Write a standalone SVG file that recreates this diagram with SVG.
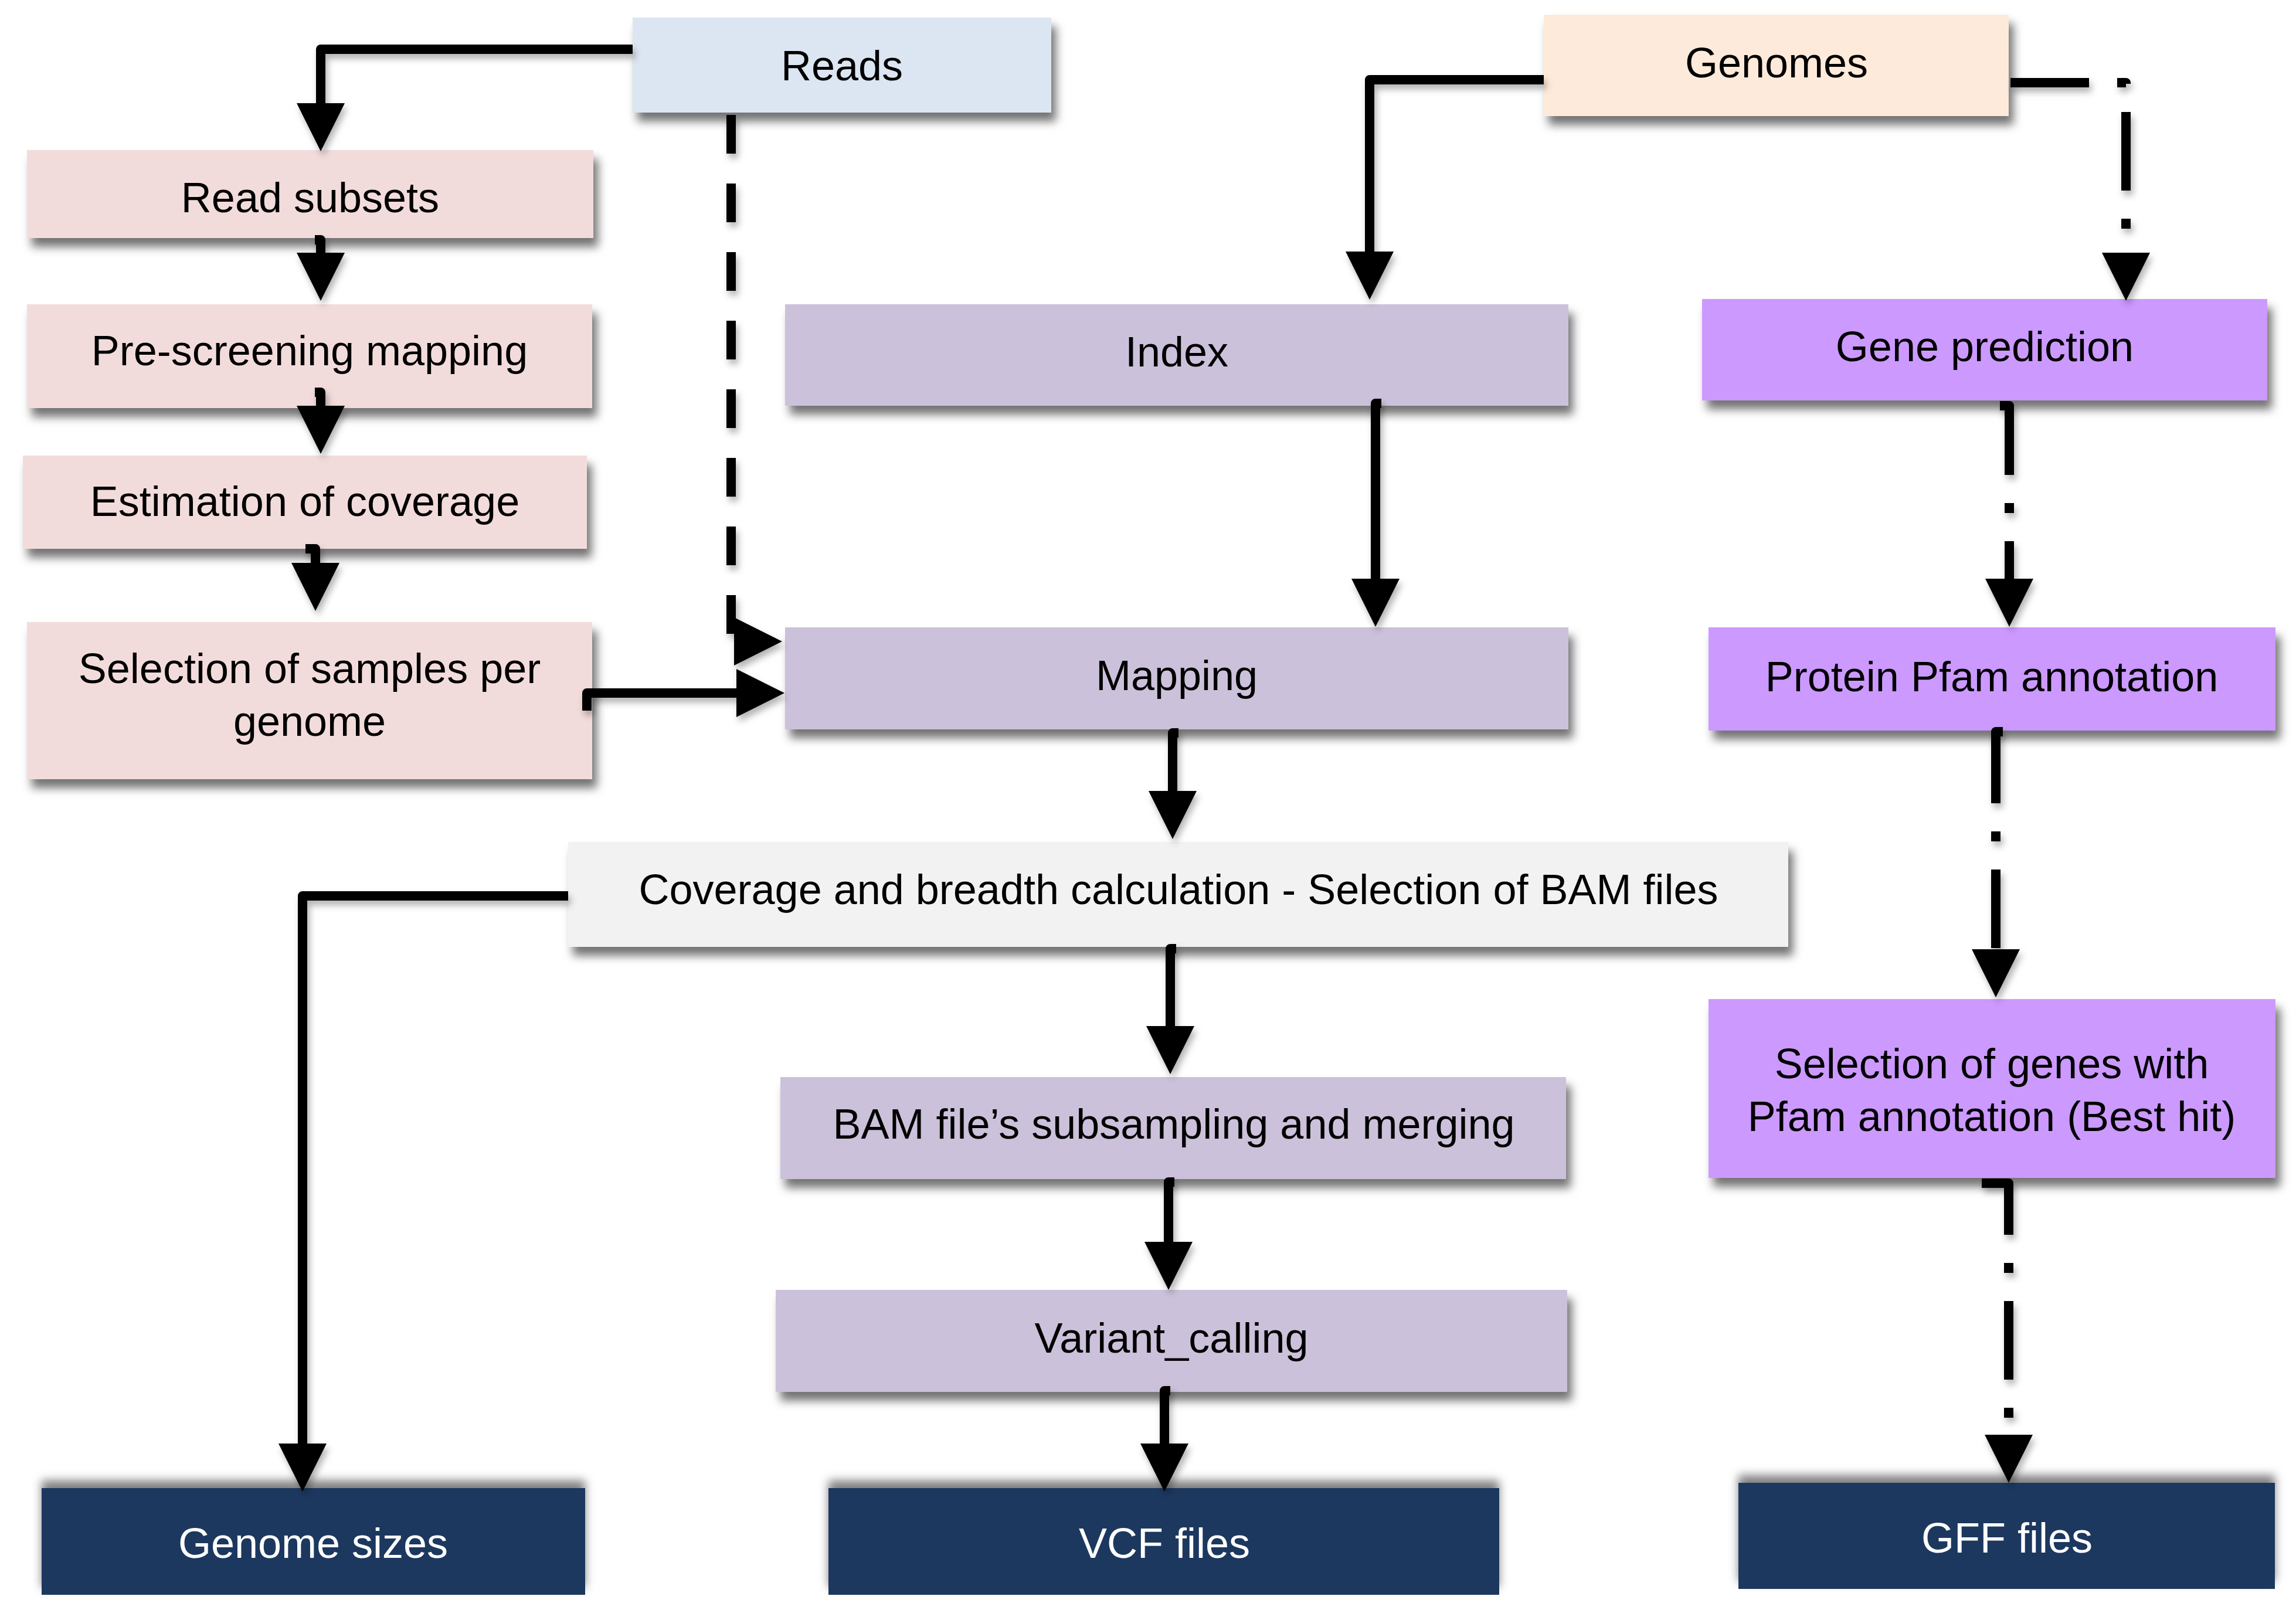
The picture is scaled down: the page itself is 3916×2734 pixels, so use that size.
<svg xmlns="http://www.w3.org/2000/svg" width="3916" height="2734" viewBox="0 0 3916 2734">
<defs>
<filter id="sh" x="-10%" y="-30%" width="120%" height="170%">
<feDropShadow dx="8" dy="15" stdDeviation="8" flood-color="#000" flood-opacity="0.55"/>
</filter>
<filter id="shUp" x="-10%" y="-40%" width="120%" height="170%">
<feDropShadow dx="0" dy="-13" stdDeviation="8" flood-color="#000" flood-opacity="0.5"/>
</filter>
<filter id="lsh" x="-20%" y="-20%" width="140%" height="140%">
<feDropShadow dx="4" dy="8" stdDeviation="6" flood-color="#000" flood-opacity="0.3"/>
</filter>
<marker id="ah" markerUnits="userSpaceOnUse" markerWidth="90" markerHeight="90" refX="0" refY="41" orient="auto" viewBox="0 0 90 90">
<path d="M0,0 L82,41 L0,82 z" fill="#000"/>
</marker>
</defs>
<style>
.box{filter:url(#sh)}
.dark{filter:url(#shUp)}
.t{font-family:"Liberation Sans",Arial,Helvetica,sans-serif;font-size:72px;text-anchor:middle;fill:#000}
.w{fill:#fff}
.c{fill:none;stroke:#000;stroke-width:16;stroke-linejoin:round;marker-end:url(#ah)}
.dash{stroke-dasharray:66 51}
.dd{stroke-dasharray:134 48 17 48}
</style>
<rect width="3916" height="2734" fill="#fff"/>

<g id="reads"><rect class="box" x="1079" y="30" width="714" height="162" fill="#dce6f2"/><text class="t" x="1436" y="137">Reads</text></g>
<g id="genomes"><rect class="box" x="2633" y="25" width="793" height="173" fill="#fdeada"/><text class="t" x="3030" y="132">Genomes</text></g>
<g id="read-subsets"><rect class="box" x="46" y="256" width="966" height="150" fill="#f2dcdb"/><text class="t" x="529" y="362">Read subsets</text></g>
<g id="pre-screening"><rect class="box" x="46" y="519" width="964" height="177" fill="#f2dcdb"/><text class="t" x="528" y="623">Pre-screening mapping</text></g>
<g id="estimation"><rect class="box" x="39" y="777" width="962" height="159" fill="#f2dcdb"/><text class="t" x="520" y="880">Estimation of coverage</text></g>
<g id="selection-samples"><rect class="box" x="46" y="1061" width="964" height="268" fill="#f2dcdb"/><text class="t" x="528" y="1165">Selection of samples per</text><text class="t" x="528" y="1255">genome</text></g>
<g id="index"><rect class="box" x="1339" y="519" width="1336" height="173" fill="#ccc1da"/><text class="t" x="2007" y="625">Index</text></g>
<g id="mapping"><rect class="box" x="1339" y="1070" width="1336" height="174" fill="#ccc1da"/><text class="t" x="2007" y="1177">Mapping</text></g>
<g id="gene-prediction"><rect class="box" x="2903" y="510" width="964" height="173" fill="#cc99ff"/><text class="t" x="3385" y="616">Gene prediction</text></g>
<g id="protein-pfam"><rect class="box" x="2914" y="1070" width="967" height="176" fill="#cc99ff"/><text class="t" x="3397" y="1179">Protein Pfam annotation</text></g>
<g id="selection-genes"><rect class="box" x="2914" y="1704" width="967" height="305" fill="#cc99ff"/><text class="t" x="3397" y="1839">Selection of genes with</text><text class="t" x="3397" y="1929">Pfam annotation (Best hit)</text></g>
<g id="coverage"><rect class="box" x="969" y="1436" width="2081" height="179" fill="#f2f2f2"/><text class="t" x="2010" y="1542">Coverage and breadth calculation - Selection of BAM files</text></g>
<g id="bam"><rect class="box" x="1331" y="1837" width="1340" height="174" fill="#ccc1da"/><text class="t" x="2002" y="1942">BAM file’s subsampling and merging</text></g>
<g id="variant"><rect class="box" x="1323" y="2200" width="1350" height="174" fill="#ccc1da"/><text class="t" x="1998" y="2307">Variant_calling</text></g>
<g id="genome-sizes"><rect class="dark" x="71" y="2538" width="927" height="182" fill="#1a375e"/><text class="t w" x="534" y="2657">Genome sizes</text></g>
<g id="vcf"><rect class="dark" x="1413" y="2538" width="1144" height="182" fill="#1a375e"/><text class="t w" x="1986" y="2657">VCF files</text></g>
<g id="gff"><rect class="dark" x="2965" y="2529" width="915" height="181" fill="#1a375e"/><text class="t w" x="3423" y="2648">GFF files</text></g>

<g id="connectors" filter="url(#lsh)">
<path class="c" d="M1079,84 H547 V176"/>
<path class="c" d="M537,409 H547 V431"/>
<path class="c" d="M537,669 H547 V692"/>
<path class="c" d="M521,936 H538 V960"/>
<path class="c dash" d="M1247,196 V1094 H1252"/>
<path class="c" d="M1001,1212 V1182 H1256"/>
<path class="c" d="M2633,136 H2336 V429"/>
<path class="c" d="M2356,688 H2346 V987"/>
<path class="c" d="M2010,1250 H2000 V1349"/>
<path class="c" d="M2006,1618 H1996 V1750"/>
<path class="c" d="M2003,2016 H1993 V2118"/>
<path class="c" d="M1996,2372 H1986 V2462"/>
<path class="c" d="M969,1528 H516 V2462"/>
<path class="c dd" d="M3429,141 H3626 V431"/>
<path class="c dd" d="M3411,692 H3427 V987"/>
<path class="c dd" d="M3416,1248 H3404 V1619"/>
<path class="c dd" d="M3380,2018 H3426 V2447"/>
</g>
</svg>
